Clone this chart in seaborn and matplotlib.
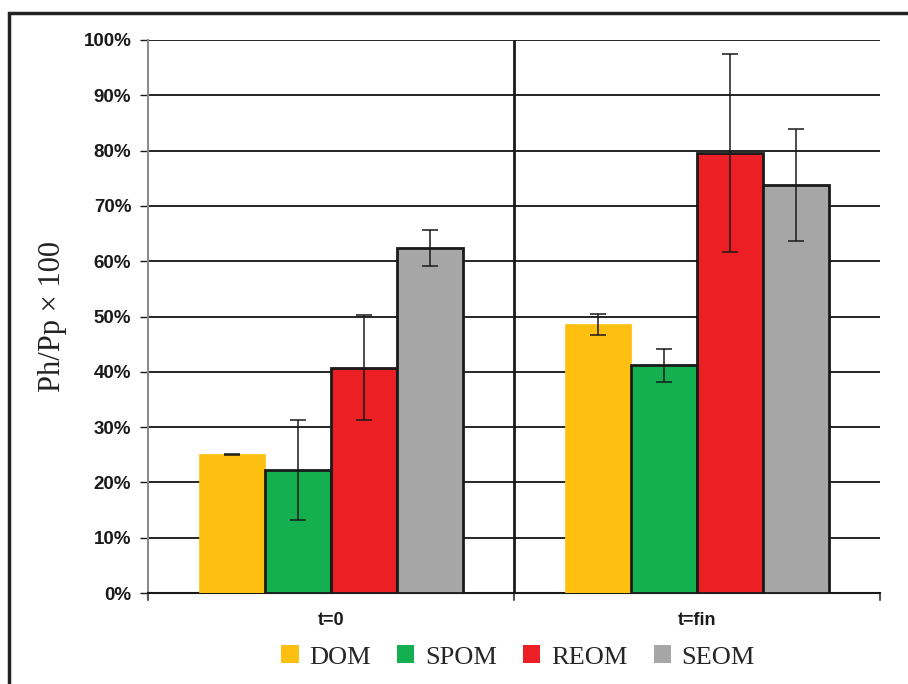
import numpy as np
import pandas as pd
import matplotlib
matplotlib.use("Agg")
import matplotlib.pyplot as plt
import seaborn as sns
from matplotlib.ticker import PercentFormatter
from matplotlib.patches import Rectangle, Patch

# values (fractions)
times = ["t=0", "t=fin"]
types = ["DOM", "SPOM", "REOM", "SEOM"]
val_t0 = [0.251, 0.222, 0.407, 0.624]
val_fin = [0.486, 0.412, 0.796, 0.738]
err_t0 = [0.001, 0.090, 0.095, 0.032]
err_fin = [0.019, 0.030, 0.179, 0.101]
colors = ["#FDC010", "#14B050", "#EC2024", "#A6A6A6"]

df = pd.DataFrame({
    "time": np.repeat(times, len(types)),
    "type": types * len(times),
    "value": val_t0 + val_fin,
    "err": err_t0 + err_fin,
})

sns.set_style("white")
fig = plt.figure(figsize=(9.08, 6.84), dpi=100)
ax = fig.add_axes([148/908, 1 - 593/684, (880-148)/908, (593-40)/684])

sns.barplot(data=df, x="time", y="value", hue="type", hue_order=types,
            palette=colors, saturation=1, width=0.72, errorbar=None, ax=ax,
            edgecolor="#1a1a1a", linewidth=2, legend=False, zorder=3)

# error bars at the bar centres, DOM without outline
for i, (cont, t) in enumerate(zip(ax.containers, types)):
    sub = df[df["type"] == t]
    for bar, e in zip(cont, sub["err"]):
        if i == 0:
            bar.set_edgecolor(bar.get_facecolor())
            bar.set_linewidth(0.5)
        ax.errorbar(bar.get_x() + bar.get_width() / 2, bar.get_height(), yerr=e,
                    fmt="none", ecolor="#1a1a1a", elinewidth=1.1, capsize=6,
                    capthick=1.1, zorder=4)

ax.set_xlim(-0.5, 1.5)
ax.set_ylim(0, 1.0)
ax.set_yticks(np.arange(0, 1.01, 0.1))
ax.yaxis.set_major_formatter(PercentFormatter(1.0, decimals=0))
ax.grid(axis="y", color="black", linewidth=1.2, zorder=0)
ax.set_axisbelow(True)

for s in ["top", "right"]:
    ax.spines[s].set_visible(False)
ax.spines["left"].set_color("#8c8c8c")
ax.spines["left"].set_linewidth(1.5)
ax.spines["bottom"].set_color("#1a1a1a")
ax.spines["bottom"].set_linewidth(1.5)

ax.tick_params(axis="y", left=True, length=6, width=1, color="#1a1a1a",
               pad=6, labelsize=13.5)
ax.tick_params(axis="x", bottom=False, pad=10, labelsize=13)
for lab in ax.get_yticklabels() + ax.get_xticklabels():
    lab.set_fontfamily("Liberation Sans")
    lab.set_fontweight("bold")
    lab.set_color("#1a1a1a")

# separator and bottom tick marks
ax.axvline(0.5, color="#1a1a1a", linewidth=2, zorder=2)
for xv in [-0.5, 0.5, 1.5]:
    ax.plot([xv, xv], [0, -0.012], color="#555555", linewidth=1.5,
            clip_on=False, zorder=2)

ax.set_xlabel("")
ax.set_ylabel("Ph/Pp \u00d7 100", fontfamily="Liberation Serif",
              fontsize=22, labelpad=12, color="#222222")

handles = [Patch(facecolor=c, edgecolor="none") for c in colors]
fig.legend(handles, types, loc="center", bbox_to_anchor=(518/908, 1 - 657/684),
           ncol=4, frameon=False, handlelength=0.65, handleheight=0.65,
           handletextpad=0.4, columnspacing=1.0,
           prop={"family": "Liberation Serif", "size": 19})

# outer frame
fig.patches.append(Rectangle((9/908, -0.05), 1.2, 1 - 13/684 + 0.05,
                             transform=fig.transFigure, fill=False,
                             edgecolor="#222222", linewidth=2.5))

fig.savefig("out.png", dpi=100)
